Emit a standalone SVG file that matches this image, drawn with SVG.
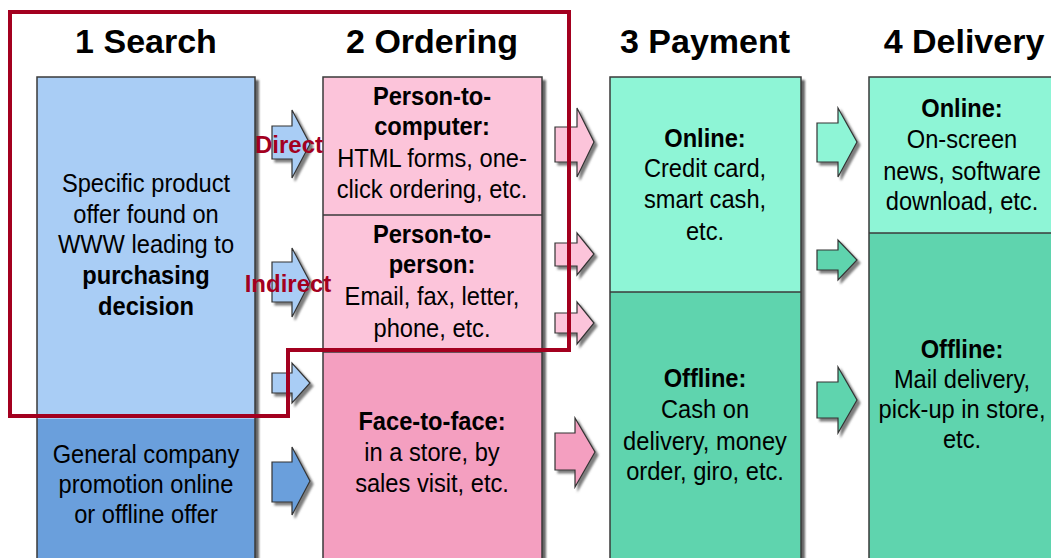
<svg xmlns="http://www.w3.org/2000/svg" width="1051" height="558" viewBox="0 0 1051 558">
  <style>
    .hd { font-family: "Liberation Sans", Arial, sans-serif; font-size: 34px; font-weight: bold; fill: #000; text-anchor: middle; }
    .tx { font-family: "Liberation Sans", Arial, sans-serif; font-size: 26px; fill: #000; text-anchor: middle; }
    .b { font-weight: bold; }
    .lbl { font-family: "Liberation Sans", Arial, sans-serif; font-size: 24px; font-weight: bold; fill: #a3001f; text-anchor: middle; }
    .box { stroke: #3a3a3a; stroke-width: 1.5; }
    .div { stroke: #3a3a3a; stroke-width: 1.5; }
    .arrow { stroke: #333; stroke-width: 1.2; stroke-linejoin: miter; filter: url(#shadowSmall); }
    .blueL { fill: #a9cdf5; }
    .blueD { fill: #6a9fdc; }
    .pinkL { fill: #fcc4da; }
    .pinkD { fill: #f49fc0; }
    .greenL { fill: #8ef5d6; }
    .greenD { fill: #5ed4ae; }
  </style>
  <defs>
    <filter id="shadow" x="-10%" y="-10%" width="130%" height="130%">
      <feDropShadow dx="4" dy="3" stdDeviation="1" flood-color="#555" flood-opacity="0.9"/>
    </filter>
    <filter id="shadowSmall" x="-20%" y="-20%" width="160%" height="160%">
      <feDropShadow dx="3" dy="3" stdDeviation="1" flood-color="#666" flood-opacity="0.85"/>
    </filter>
  </defs>

  <rect width="1051" height="558" fill="#fff"/>

  <!-- column headings -->
  <g id="headings">
    <text class="hd" x="146" y="53">1 Search</text>
    <text class="hd" x="432" y="53">2 Ordering</text>
    <text class="hd" x="705" y="53">3 Payment</text>
    <text class="hd" x="964" y="53">4 Delivery</text>
  </g>

  <!-- 1 Search -->
  <g id="search">
    <g filter="url(#shadow)">
      <rect class="blueL" x="37" y="77" width="218" height="342"/>
      <rect class="blueD" x="37" y="419" width="218" height="150"/>
    </g>
    <rect class="box" x="37" y="77" width="218" height="492" fill="none"/>
    <g transform="translate(146 0) scale(0.91 1)">
      <text class="tx" x="0" y="192">Specific product</text>
      <text class="tx" x="0" y="223">offer found on</text>
      <text class="tx" x="0" y="253">WWW leading to</text>
      <text class="tx b" x="0" y="284">purchasing</text>
      <text class="tx b" x="0" y="315">decision</text>
      <text class="tx" x="0" y="463">General company</text>
      <text class="tx" x="0" y="493">promotion online</text>
      <text class="tx" x="0" y="523">or offline offer</text>
    </g>
  </g>

  <!-- 2 Ordering -->
  <g id="ordering">
    <g filter="url(#shadow)">
      <rect class="pinkL" x="323" y="77" width="219" height="275"/>
      <rect class="pinkD" x="323" y="352" width="219" height="217"/>
    </g>
    <rect class="box" x="323" y="77" width="219" height="492" fill="none"/>
    <line class="div" x1="323" y1="215" x2="542" y2="215"/>
    <line class="div" x1="323" y1="352" x2="542" y2="352"/>
    <g transform="translate(432 0) scale(0.91 1)">
      <text class="tx b" x="0" y="105">Person-to-</text>
      <text class="tx b" x="0" y="135">computer:</text>
      <text class="tx" x="0" y="167">HTML forms, one-</text>
      <text class="tx" x="0" y="198">click ordering, etc.</text>
      <text class="tx b" x="0" y="243">Person-to-</text>
      <text class="tx b" x="0" y="273">person:</text>
      <text class="tx" x="0" y="305">Email, fax, letter,</text>
      <text class="tx" x="0" y="337">phone, etc.</text>
      <text class="tx b" x="0" y="430">Face-to-face:</text>
      <text class="tx" x="0" y="461">in a store, by</text>
      <text class="tx" x="0" y="492">sales visit, etc.</text>
    </g>
  </g>

  <!-- 3 Payment -->
  <g id="payment">
    <g filter="url(#shadow)">
      <rect class="greenL" x="610" y="77" width="191" height="215"/>
      <rect class="greenD" x="610" y="292" width="191" height="277"/>
    </g>
    <rect class="box" x="610" y="77" width="191" height="492" fill="none"/>
    <line class="div" x1="610" y1="292" x2="801" y2="292"/>
    <g transform="translate(705 0) scale(0.91 1)">
      <text class="tx b" x="0" y="147">Online:</text>
      <text class="tx" x="0" y="177">Credit card,</text>
      <text class="tx" x="0" y="208">smart cash,</text>
      <text class="tx" x="0" y="240">etc.</text>
      <text class="tx b" x="0" y="387">Offline:</text>
      <text class="tx" x="0" y="418">Cash on</text>
      <text class="tx" x="0" y="450">delivery, money</text>
      <text class="tx" x="0" y="480">order, giro, etc.</text>
    </g>
  </g>

  <!-- 4 Delivery -->
  <g id="delivery">
    <g filter="url(#shadow)">
      <rect class="greenL" x="869" y="77" width="200" height="156"/>
      <rect class="greenD" x="869" y="233" width="200" height="336"/>
    </g>
    <rect class="box" x="869" y="77" width="200" height="492" fill="none"/>
    <line class="div" x1="869" y1="233" x2="1051" y2="233"/>
    <g transform="translate(962 0) scale(0.91 1)">
      <text class="tx b" x="0" y="117">Online:</text>
      <text class="tx" x="0" y="148">On-screen</text>
      <text class="tx" x="0" y="180">news, software</text>
      <text class="tx" x="0" y="210">download, etc.</text>
      <text class="tx b" x="0" y="358">Offline:</text>
      <text class="tx" x="0" y="388">Mail delivery,</text>
      <text class="tx" x="0" y="418">pick-up in store,</text>
      <text class="tx" x="0" y="448">etc.</text>
    </g>
  </g>

  <!-- block arrows between the stages -->
  <g id="connectors">
    <polygon class="arrow blueL" points="272,126 292,126 292,110 310,144 292,178 292,159 272,159"/>
    <polygon class="arrow blueL" points="272,262 292,262 292,248 310,282 292,317 292,302 272,302"/>
    <polygon class="arrow blueL" points="272,373 292,373 292,363 310,383 292,403 292,393 272,393"/>
    <polygon class="arrow blueD" points="272,462 292,462 292,447 310,481 292,515 292,502 272,502"/>

    <polygon class="arrow pinkL" points="555,127 577,127 577,108 594,142 577,177 577,162 555,162"/>
    <polygon class="arrow pinkL" points="555,243 577,243 577,233 594,254 577,275 577,266 555,266"/>
    <polygon class="arrow pinkL" points="555,313 577,313 577,302 594,323 577,344 577,333 555,333"/>
    <polygon class="arrow pinkD" points="555,433 575,433 575,418 595,452 575,487 575,470 555,470"/>

    <polygon class="arrow greenL" points="817,123 838,123 838,108 857,142 838,177 838,162 817,162"/>
    <polygon class="arrow greenD" points="817,250 838,250 838,240 857,260 838,280 838,270 817,270"/>
    <polygon class="arrow greenD" points="817,382 838,382 838,367 857,400 838,433 838,418 817,418"/>

    <text class="lbl" x="289" y="153">Direct</text>
    <text class="lbl" x="288" y="292">Indirect</text>
  </g>

  <!-- outline around the online part of search and ordering -->
  <g id="online-scope">
    <path d="M10,12 H569 V350 H288 V416 H10 Z" fill="none" stroke="#a3001f" stroke-width="4"/>
  </g>
</svg>
